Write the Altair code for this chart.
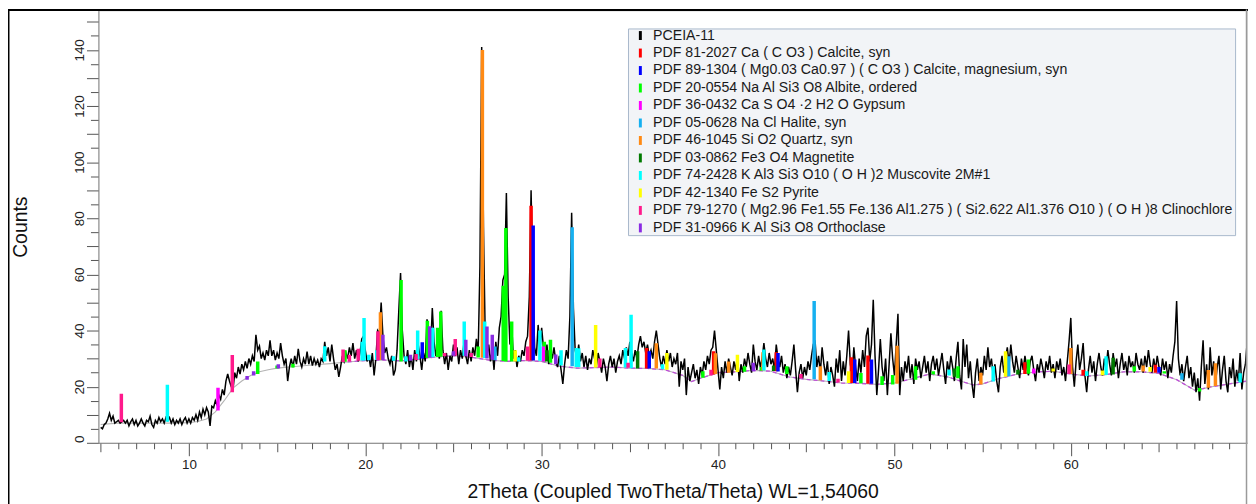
import altair as alt
import numpy as np
import pandas as pd

FONT = "Liberation Sans, Arial, Helvetica, sans-serif"
W, H = 1156, 435

x_title = "2Theta (Coupled TwoTheta/Theta) WL=1,54060"
y_title = "Counts"
sample_name = "PCEIA-11"

# ---- measured scan (counts), one row per degree, 0.1 deg steps from 5.0 ----
scan_start = 5.0
scan_step = 0.1
counts_by_degree = [
    [5.5, 5.0, 6.5, 7.0, 8.5, 10.5, 8.0, 9.5, 7.0, 7.5],      # 5
    [8.0, 7.0, 7.5, 8.0, 7.0, 8.0, 6.0, 7.5, 8.5, 6.5],       # 6
    [8.0, 6.0, 7.0, 8.5, 7.0, 6.0, 8.0, 7.5, 9.5, 6.5],       # 7
    [5.5, 8.0, 7.0, 9.0, 7.5, 8.5, 7.0, 9.0, 8.0, 9.0],       # 8
    [7.0, 8.5, 6.5, 8.0, 7.0, 8.5, 6.5, 8.0, 9.0, 7.0],       # 9
    [8.5, 7.0, 9.0, 8.0, 10.0, 8.0, 11.0, 9.0, 12.0, 10.0],   # 10
    [12.5, 11.0, 6.0, 13.0, 12.5, 15.0, 13.5, 17.0, 15.5, 19.0],  # 11
    [17.0, 22.0, 24.5, 22.0, 20.0, 19.0, 25.0, 23.0, 27.0, 24.5],  # 12
    [28.0, 26.0, 29.0, 26.5, 30.0, 28.0, 31.0, 29.0, 38.5, 33.0],  # 13
    [34.5, 30.0, 32.0, 29.5, 33.0, 31.0, 36.5, 31.0, 33.0, 29.5],  # 14
    [32.0, 30.0, 35.5, 31.0, 28.0, 30.0, 22.0, 27.0, 30.0, 27.0],  # 15
    [31.0, 28.0, 33.5, 29.0, 27.0, 30.0, 28.0, 32.5, 28.0, 31.0],  # 16
    [27.5, 30.0, 28.0, 29.5, 27.0, 30.0, 29.0, 36.0, 31.0, 34.0],  # 17
    [29.0, 35.0, 30.0, 26.0, 28.0, 23.5, 27.0, 31.0, 29.0, 32.0],  # 18
    [30.0, 34.0, 31.0, 35.5, 30.0, 33.0, 29.0, 32.0, 37.0, 38.0],  # 19
    [33.0, 29.0, 31.0, 27.0, 32.0, 24.0, 30.0, 40.0, 39.0, 50.0],  # 20
    [38.0, 32.0, 34.0, 30.0, 28.0, 31.0, 24.0, 26.0, 33.0, 47.0],  # 21
    [60.5, 40.0, 31.0, 28.0, 33.0, 27.0, 31.0, 26.0, 33.0, 29.0],  # 22
    [35.0, 31.0, 26.0, 32.0, 29.0, 44.0, 40.0, 33.0, 48.0, 36.0],  # 23
    [31.0, 35.0, 30.0, 47.0, 33.0, 28.0, 32.0, 26.0, 31.0, 29.0],  # 24
    [35.0, 31.0, 34.0, 28.0, 33.0, 30.0, 36.0, 31.0, 28.0, 33.0],  # 25
    [29.0, 34.0, 31.0, 37.0, 32.0, 63.0, 141.0, 77.0, 38.0, 31.0],  # 26
    [35.0, 29.0, 33.0, 26.0, 36.0, 31.0, 41.0, 45.0, 58.0, 60.0],  # 27
    [89.0, 52.0, 35.0, 42.0, 30.0, 33.0, 27.0, 31.0, 29.0, 33.0],  # 28
    [31.0, 36.0, 38.0, 52.0, 90.0, 58.0, 34.0, 31.0, 42.0, 33.0],  # 29
    [41.0, 34.0, 30.0, 35.0, 28.0, 33.0, 30.0, 34.0, 29.0, 27.0],  # 30
    [31.0, 26.0, 21.0, 28.0, 33.0, 30.0, 45.0, 82.0, 48.0, 33.0],  # 31
    [30.0, 35.0, 29.0, 32.0, 27.0, 31.0, 26.0, 30.0, 28.0, 33.0],  # 32
    [30.0, 27.0, 32.0, 29.0, 25.0, 30.0, 27.0, 22.0, 28.0, 31.0],  # 33
    [27.0, 30.0, 25.0, 29.0, 31.0, 28.0, 33.0, 30.0, 34.0, 31.0],  # 34
    [36.0, 32.0, 29.0, 33.0, 30.0, 35.0, 38.0, 34.0, 36.0, 32.0],  # 35
    [35.0, 31.0, 33.0, 30.0, 36.0, 40.0, 35.0, 30.0, 27.0, 31.0],  # 36
    [28.0, 33.0, 29.0, 32.0, 27.0, 30.0, 28.0, 32.0, 20.0, 29.0],  # 37
    [26.0, 30.0, 17.0, 27.0, 22.0, 25.0, 28.0, 23.0, 26.0, 21.0],  # 38
    [27.0, 24.0, 29.0, 26.0, 31.0, 28.0, 33.0, 34.0, 40.0, 33.0],  # 39
    [26.0, 19.0, 27.0, 23.0, 29.0, 25.0, 30.0, 27.0, 24.0, 29.0],  # 40
    [26.0, 31.0, 22.0, 28.0, 25.0, 30.0, 27.0, 32.0, 28.0, 25.0],  # 41
    [35.0, 29.0, 26.0, 31.0, 27.0, 30.0, 35.5, 30.0, 27.0, 32.0],  # 42
    [28.0, 30.0, 26.0, 35.0, 30.0, 27.0, 31.0, 25.0, 28.0, 23.0],  # 43
    [27.0, 24.0, 29.0, 35.0, 26.0, 18.0, 25.0, 28.0, 23.0, 27.0],  # 44
    [24.0, 29.0, 26.0, 31.0, 35.0, 36.5, 27.0, 31.0, 25.0, 34.0],  # 45
    [28.0, 24.0, 29.0, 21.0, 27.0, 24.0, 20.0, 30.0, 25.0, 33.0],  # 46
    [22.0, 29.0, 24.0, 31.0, 40.0, 28.0, 24.0, 34.0, 27.0, 22.0],  # 47
    [30.0, 25.0, 33.0, 27.0, 38.0, 41.0, 29.0, 35.0, 51.0, 31.0],  # 48
    [17.0, 26.0, 37.0, 27.0, 22.0, 30.0, 17.0, 28.0, 39.0, 30.0],  # 49
    [24.0, 35.0, 46.0, 17.0, 27.0, 22.0, 29.0, 25.0, 31.0, 23.0],  # 50
    [28.0, 21.0, 30.0, 26.0, 29.0, 23.0, 27.0, 31.0, 25.0, 29.0],  # 51
    [22.0, 28.0, 31.0, 26.0, 30.0, 24.0, 28.0, 32.0, 26.0, 21.0],  # 52
    [29.0, 25.0, 31.0, 27.0, 22.0, 30.0, 36.0, 24.0, 19.0, 37.0],  # 53
    [27.0, 35.0, 23.0, 29.0, 21.0, 16.0, 25.0, 30.0, 22.0, 27.0],  # 54
    [24.0, 31.0, 26.0, 34.0, 27.0, 30.0, 24.0, 28.0, 22.0, 18.0],  # 55
    [27.0, 31.0, 25.0, 30.0, 34.0, 28.0, 35.0, 29.0, 25.0, 31.0],  # 56
    [27.0, 23.0, 30.0, 26.0, 31.0, 27.0, 24.0, 29.0, 31.0, 26.0],  # 57
    [22.0, 28.0, 25.0, 30.0, 27.0, 23.0, 29.0, 26.0, 31.0, 25.0],  # 58
    [28.0, 23.0, 29.0, 26.0, 30.0, 24.0, 27.0, 22.0, 29.0, 36.0],  # 59
    [44.5, 27.0, 20.0, 29.0, 35.0, 26.0, 30.0, 35.5, 24.0, 18.0],  # 60
    [26.0, 31.0, 25.0, 29.0, 22.0, 28.0, 32.0, 27.0, 24.0, 30.0],  # 61
    [26.0, 33.0, 28.0, 24.0, 32.0, 27.0, 30.0, 23.0, 28.0, 32.0],  # 62
    [26.0, 29.0, 24.0, 31.0, 27.0, 29.0, 25.0, 32.0, 28.0, 26.0],  # 63
    [30.0, 25.0, 31.0, 27.0, 33.0, 28.0, 25.0, 30.0, 26.0, 31.0],  # 64
    [27.0, 24.0, 30.0, 26.0, 29.0, 23.0, 28.0, 25.0, 31.0, 36.0],  # 65
    [50.5, 30.0, 24.0, 28.0, 22.0, 27.0, 31.0, 23.0, 27.0, 20.0],  # 66
    [25.0, 18.0, 23.0, 15.0, 27.0, 36.5, 21.0, 28.0, 19.0, 34.0],  # 67
    [24.0, 29.0, 21.0, 27.0, 31.0, 19.0, 26.0, 31.0, 22.0, 18.0],  # 68
    [27.0, 23.0, 30.0, 20.0, 26.0, 22.0, 32.0, 19.0, 25.0, 28.0],  # 69
    [36.0],                                                      # 70
]

# ---- fitted background (grey curve under the pattern) ----
bg_x = [5, 6, 7, 8, 9, 10, 10.5, 11, 11.5, 12, 12.5, 13, 13.5, 14, 14.5, 15,
        16, 17, 18, 19, 20, 21, 22, 23, 24, 25, 26, 27, 28, 29, 30, 31, 32, 33,
        34, 35, 36, 37, 38, 38.5, 39, 40, 41, 42, 43, 44, 45, 46, 47, 48, 49,
        50, 51, 52, 53, 54, 54.5, 55, 56, 57, 58, 59, 60, 61, 62, 63, 64, 65,
        66, 67, 67.5, 68, 69, 70]
bg_y = [6.5, 7, 7, 7, 7, 7.2, 7.6, 8.5, 11, 15, 19.5, 22, 24, 25.3, 26, 26.6,
        27.2, 27.7, 28.2, 28.8, 29.3, 29.5, 29.2, 29.8, 30.6, 31, 30.5, 29.5,
        29, 29.3, 29, 27.3, 26.6, 26.8, 27, 26.6, 26.5, 26, 24, 21.8, 23, 25,
        25.3, 25.8, 25.5, 23.5, 22.6, 22, 21.3, 21.2, 20.8, 21.3, 22.8, 24.5,
        23.5, 21.5, 20.6, 21, 23, 24.5, 25.2, 25.5, 24.5, 23.8, 24.3, 25.3,
        25.3, 24.7, 22.5, 18.8, 19.3, 20, 21, 22]

# ---- reference phases ----
phase_names = [
    sample_name,
    "PDF 81-2027 Ca ( C O3 ) Calcite, syn",
    "PDF 89-1304 ( Mg0.03 Ca0.97 ) ( C O3 ) Calcite, magnesium, syn",
    "PDF 20-0554 Na Al Si3 O8 Albite, ordered",
    "PDF 36-0432 Ca S O4 \u00b72 H2 O Gypsum",
    "PDF 05-0628 Na Cl Halite, syn",
    "PDF 46-1045 Si O2 Quartz, syn",
    "PDF 03-0862 Fe3 O4 Magnetite",
    "PDF 74-2428 K Al3 Si3 O10 ( O H )2 Muscovite 2M#1",
    "PDF 42-1340 Fe S2 Pyrite",
    "PDF 79-1270 ( Mg2.96 Fe1.55 Fe.136 Al1.275 ) ( Si2.622 Al1.376 O10 ) ( O H )8 Clinochlore",
    "PDF 31-0966 K Al Si3 O8 Orthoclase",
]
phase_colors = ["#000000", "#ff0000", "#0000ff", "#00ff00", "#ff00ff", "#16b0f0",
                "#ff8a14", "#007a00", "#00ffff", "#ffff00", "#ff1a8c", "#8a2be2"]

# stick positions (2theta), stick foot (counts) and stick top (counts)
calcite_pos = [29.40, 35.95, 39.75, 43.30, 47.56, 48.50, 57.40, 60.70, 64.80]
calcite_base = [29.3, 26.5, 24.3, 25.5, 21.3, 21.0, 24.5, 24.0, 25.0]
calcite_top = [84.5, 33.8, 32.6, 32.3, 30.5, 31.1, 28.7, 26.0, 27.8]

mgcalcite_pos = [23.23, 29.52, 36.10, 43.40, 47.75, 48.70, 65.00]
mgcalcite_base = [30.0, 29.3, 26.5, 25.4, 21.3, 21.0, 25.0]
mgcalcite_top = [35.8, 77.4, 32.6, 32.0, 29.7, 29.7, 27.0]

albite_pos = [13.90, 15.00, 15.90, 18.85, 22.03, 23.52, 24.10, 24.28, 26.40,
              27.82, 27.97, 28.30, 30.15, 30.50, 39.14, 41.50, 42.45, 43.90,
              48.10, 49.30, 49.90, 51.20, 52.20, 53.60, 57.60, 63.60, 65.30, 67.30]
albite_base = [24.5, 26.5, 26.8, 28.9, 29.0, 30.2, 30.6, 30.7, 30.4,
               29.1, 29.0, 29.0, 29.0, 28.5, 23.2, 25.3, 25.7, 24.5,
               21.2, 20.6, 20.8, 22.5, 24.3, 23.0, 24.6, 25.4, 24.7, 18.3]
albite_top = [29.0, 27.5, 28.2, 33.0, 58.0, 43.5, 41.0, 46.8, 34.3,
              56.0, 76.5, 43.2, 36.0, 36.7, 25.5, 27.3, 27.0, 27.3,
              24.9, 23.7, 24.2, 27.3, 25.5, 27.3, 29.7, 27.3, 25.5, 19.5]

gypsum_pos = [11.65, 30.10, 57.90]
gypsum_base = [11.5, 29.0, 24.7]
gypsum_top = [19.6, 34.3, 26.5]

halite_pos = [27.35, 31.73, 45.45, 56.48, 66.30]
halite_base = [29.4, 27.3, 22.6, 23.7, 22.5]
halite_top = [34.3, 76.8, 50.5, 30.8, 24.8]

quartz_pos = [20.86, 26.64, 36.50, 39.85, 40.60, 42.55, 45.80, 50.15, 54.90,
              60.00, 64.10, 67.80, 68.20]
quartz_base = [29.5, 30.3, 26.5, 24.5, 25.0, 25.8, 22.3, 21.0, 20.8,
               24.5, 25.4, 19.6, 20.2]
quartz_top = [46.5, 140.0, 35.5, 31.9, 29.0, 32.3, 27.3, 34.6, 25.0,
              33.8, 27.5, 25.9, 28.3]

magnetite_pos = [30.30, 35.44, 43.15, 53.40, 57.00, 62.40]
magnetite_base = [29.0, 26.5, 25.6, 23.5, 24.3, 24.3]
magnetite_top = [33.0, 32.6, 27.5, 26.5, 26.0, 30.3]

muscovite_pos = [8.78, 17.70, 19.82, 19.93, 20.20, 20.65, 21.60, 22.30, 22.97,
                 23.82, 25.61, 26.77, 28.70, 29.90, 31.10, 31.96, 32.10, 34.75,
                 35.07, 36.85, 42.60, 46.30, 53.10, 55.60, 60.90, 62.00, 69.60]
muscovite_base = [7.5, 29.0, 29.3, 29.3, 29.4, 29.5, 29.2, 29.0, 29.8,
                  30.5, 31.0, 30.2, 29.0, 29.2, 27.5, 27.0, 27.0, 26.8,
                  26.6, 26.2, 25.8, 22.0, 24.0, 21.8, 23.8, 24.2, 21.5]
muscovite_top = [20.7, 34.4, 36.0, 44.5, 31.4, 33.0, 30.8, 30.8, 40.0,
                 41.0, 43.2, 43.2, 30.5, 40.0, 33.0, 33.8, 33.7, 33.8,
                 45.6, 28.0, 33.2, 25.2, 26.1, 27.3, 25.5, 30.8, 24.8]

pyrite_pos = [28.50, 33.06, 37.10, 41.10, 47.40, 56.30, 59.00, 61.80, 64.50]
pyrite_base = [29.0, 26.8, 26.0, 25.2, 21.3, 23.5, 25.4, 24.1, 25.3]
pyrite_top = [33.0, 42.0, 32.0, 31.4, 25.5, 32.6, 26.5, 25.8, 27.0]

clinochlore_pos = [6.17, 12.46, 18.74, 19.10, 19.60, 20.72, 22.88, 24.50, 25.10,
                   26.00, 29.20, 33.30, 34.90, 39.60, 44.70, 46.80, 59.90]
clinochlore_base = [7.3, 18.0, 28.8, 29.0, 29.2, 29.5, 29.5, 30.8, 31.0,
                    30.6, 29.2, 26.8, 26.7, 24.0, 23.0, 21.5, 24.6]
clinochlore_top = [17.5, 31.3, 33.2, 31.4, 33.5, 39.7, 31.6, 32.0, 37.0,
                   32.0, 34.3, 30.0, 28.5, 26.0, 24.5, 22.8, 27.9]

orthoclase_pos = [13.30, 13.67, 15.07, 21.00, 22.56, 23.65, 25.00, 25.70, 26.90,
                  27.20, 30.80, 42.00]
orthoclase_base = [22.5, 24.0, 26.5, 29.5, 29.2, 30.3, 31.0, 30.8, 30.0,
                   29.6, 28.0, 25.5]
orthoclase_top = [23.8, 25.5, 28.0, 38.5, 31.4, 41.5, 32.6, 36.7, 41.4,
                  38.5, 31.5, 28.5]

# ---- tables ----
counts = [v for row in counts_by_degree for v in row]
two_theta = np.round(scan_start + scan_step * np.arange(len(counts)), 2)
df_scan = pd.DataFrame({"tt": two_theta, "c": counts})
df_bg = pd.DataFrame({"tt": bg_x, "b": bg_y})

phase_sticks = [
    (phase_names[1], calcite_pos, calcite_base, calcite_top),
    (phase_names[2], mgcalcite_pos, mgcalcite_base, mgcalcite_top),
    (phase_names[3], albite_pos, albite_base, albite_top),
    (phase_names[4], gypsum_pos, gypsum_base, gypsum_top),
    (phase_names[5], halite_pos, halite_base, halite_top),
    (phase_names[6], quartz_pos, quartz_base, quartz_top),
    (phase_names[7], magnetite_pos, magnetite_base, magnetite_top),
    (phase_names[8], muscovite_pos, muscovite_base, muscovite_top),
    (phase_names[9], pyrite_pos, pyrite_base, pyrite_top),
    (phase_names[10], clinochlore_pos, clinochlore_base, clinochlore_top),
    (phase_names[11], orthoclase_pos, orthoclase_base, orthoclase_top),
]
rows = []
for name, pos, base, top in phase_sticks:
    for p, b, t in zip(pos, base, top):
        rows.append({"tt": p, "base": b, "top": t, "phase": name})
df_sticks = pd.DataFrame(rows)

# ---- scales / axes ----
xs = alt.Scale(domain=[4.87, 69.99], nice=False, zero=False, padding=0)
ys = alt.Scale(domain=[0, 154], nice=False, zero=False, padding=0)

common = dict(grid=False, labelFont=FONT, titleFont=FONT, tickColor="#555555",
              domainColor="#808080", labelColor="#222222", titleColor="#111111",
              labelFlush=False, labelOverlap=False)

x_axis_major = alt.Axis(orient="bottom", values=list(range(10, 70, 10)), tickSize=13,
                        labelFontSize=13.5, labelPadding=2, title=x_title,
                        titleFontSize=19.5, titleFontWeight="normal", titleX=W / 2,
                        titleY=55, titleBaseline="alphabetic", titleAlign="center",
                        **common)
x_axis_fives = alt.Axis(orient="bottom", values=list(range(5, 70, 10)), tickSize=9,
                        labels=False, domain=False, title=None, grid=False,
                        tickColor="#555555")
x_axis_ones = alt.Axis(orient="bottom",
                       values=[v for v in range(5, 70) if v % 5 != 0], tickSize=6,
                       labels=False, domain=False, title=None, grid=False,
                       tickColor="#555555")

y_label_style = dict(labelAngle=270, labelAlign="center", labelBaseline="alphabetic",
                     labelPadding=3.5, labelFontSize=13.5, labelFont=FONT,
                     labelColor="#222222", labelOverlap=False, labelFlush=False)
y_axis_major = alt.Axis(orient="left", values=list(range(10, 151, 10)), tickSize=12,
                        labelExpr="datum.value % 20 == 0 ? datum.label : ''",
                        title=y_title, titleFont=FONT, titleColor="#111111",
                        titleFontSize=19.5, titleFontWeight="normal", titleAngle=270,
                        titleX=-72.3, titleY=H / 2, titleBaseline="alphabetic",
                        titleAlign="center", grid=False, tickColor="#555555",
                        domainColor="#808080", **y_label_style)
y_axis_fives = alt.Axis(orient="left", values=list(range(5, 151, 10)), tickSize=8,
                        labels=False, domain=False, title=None, grid=False,
                        tickColor="#555555")
y_axis_zero = alt.Axis(orient="left", values=[0], tickSize=12, domain=False,
                       title=None, grid=False, tickColor="#555555", labelOffset=-4,
                       **y_label_style)

# ---- layers ----
bg_line = alt.Chart(df_bg).mark_line(color="#b4b4b4", strokeWidth=1.1, clip=True).encode(
    x=alt.X("tt:Q", scale=xs, axis=x_axis_fives),
    y=alt.Y("b:Q", scale=ys, axis=y_axis_fives),
)
bg_overlay = alt.Chart(df_bg).transform_filter("datum.tt >= 19").mark_line(
    color="#c04ed8", strokeWidth=1.3, strokeDash=[4, 3], clip=True
).encode(x=alt.X("tt:Q", scale=xs, axis=None), y=alt.Y("b:Q", scale=ys, axis=y_axis_zero))

scan = alt.Chart(df_scan).mark_line(color="black", strokeWidth=1.5, clip=True).encode(
    x=alt.X("tt:Q", scale=xs, axis=x_axis_major),
    y=alt.Y("c:Q", scale=ys, axis=y_axis_major),
)

legend = alt.Legend(title=None, orient="none", legendX=533, legendY=18,
                    direction="vertical", fillColor="#f2f4f7", strokeColor="#a8b8cc",
                    padding=0, labelFont=FONT, labelFontSize=14.25, labelColor="#1a1a1a",
                    labelLimit=900, labelOffset=11, symbolType="M0.85,-1H1.51V1H0.85Z",
                    symbolSize=81, symbolStrokeWidth=0, symbolOpacity=1,
                    rowPadding=2.6)

sticks = alt.Chart(df_sticks).mark_bar(size=3.5, clip=True).encode(
    x=alt.X("tt:Q", scale=xs, axis=x_axis_ones),
    y=alt.Y("base:Q", scale=ys, axis=None),
    y2="top:Q",
    color=alt.Color("phase:N", scale=alt.Scale(domain=phase_names, range=phase_colors),
                    legend=legend),
)

one = pd.DataFrame({"k": [0]})
frame_top = alt.Chart(one).mark_rule(color="black", strokeWidth=2).encode(
    x=alt.value(-92), x2=alt.value(W + 2), y=alt.value(-0.5))
frame_left = alt.Chart(one).mark_rule(color="black", strokeWidth=2).encode(
    x=alt.value(-90.5), y=alt.value(-1), y2=alt.value(H + 70))
frame_right = alt.Chart(one).mark_rule(color="#9a9a9a", strokeWidth=1.5).encode(
    x=alt.value(W - 0.5), y=alt.value(-1), y2=alt.value(H + 70))

chart = alt.layer(
    bg_line, bg_overlay, scan, sticks, frame_top, frame_left, frame_right
).resolve_axis(x="independent", y="independent").properties(
    width=W, height=H,
    autosize=alt.AutoSizeParams(type="none"),
    padding={"left": 91, "top": 1, "right": 1, "bottom": 60},
).configure_view(stroke=None).configure(background="white", font=FONT)

chart.save("out.html", embed_options={"renderer": "svg", "actions": False})
